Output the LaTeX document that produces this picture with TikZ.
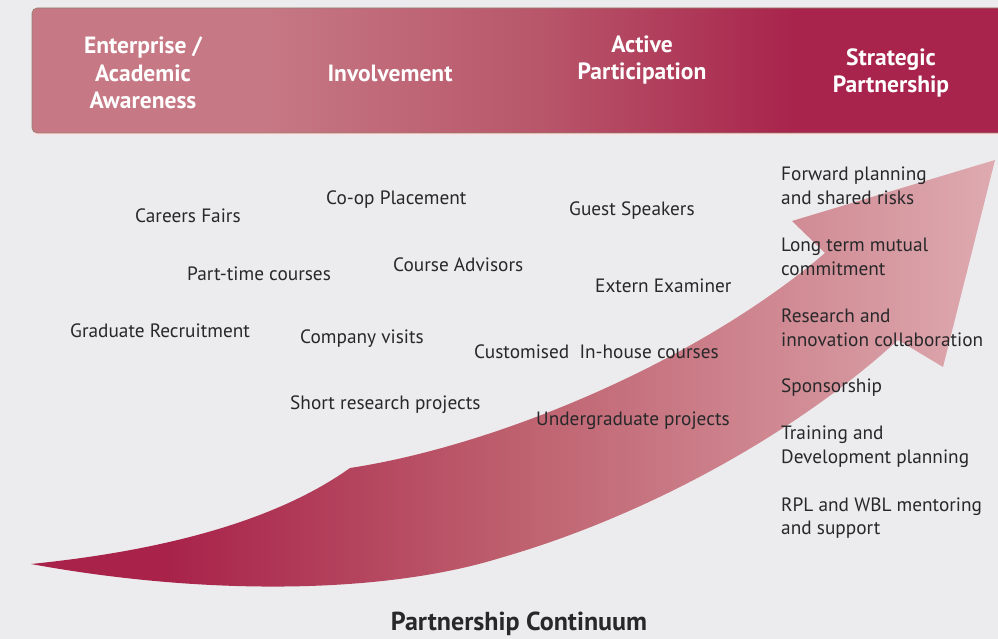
\documentclass[tikz,border=0pt]{standalone}
\usepackage{fontspec}
\setmainfont{PT Sans}
\usetikzlibrary{positioning}

\definecolor{bgcol}{RGB}{236,236,238}
\definecolor{txtcol}{RGB}{40,40,42}
\definecolor{banlight}{RGB}{198,120,132}
\definecolor{banmid}{RGB}{184,86,106}
\definecolor{bandark}{RGB}{168,36,76}
\definecolor{arrdark}{RGB}{168,34,74}
\definecolor{arrmid}{RGB}{190,96,110}
\definecolor{arrlight}{RGB}{222,170,176}

\pgfdeclarehorizontalshading{bannershade}{100bp}{color(0bp)=(banlight); color(37bp)=(banlight); color(51bp)=(banmid); color(64bp)=(bandark); color(100bp)=(bandark)}
\pgfdeclarehorizontalshading{arrowshade}{100bp}{color(0bp)=(arrdark); color(32bp)=(arrdark); color(50bp)=(arrmid); color(75bp)=(arrlight); color(100bp)=(arrlight)}

\tikzset{
    stage/.style={text=white, align=center, inner sep=0pt, font=\bfseries\fontsize{23.5}{27.5}\selectfont},
    item/.style={text=txtcol, anchor=west, align=left, inner sep=0pt, font=\fontsize{19.3}{23.7}\selectfont},
}

\begin{document}
\begin{tikzpicture}[x=1pt, y=-1pt]
    \useasboundingbox (0,0) rectangle (998,639);
    \fill[bgcol] (0,0) rectangle (998,639);

    % banner with the four stages
    \draw[pink!45, line width=1.2pt] (34,134) -- (1010,134);
    \shade[shading=bannershade, draw=gray!70!brown, line width=0.6pt, rounded corners=5pt]
        (32,8) rectangle (1010,133);
    \node[stage] (aware) at (143,73) {Enterprise /\\Academic\\Awareness};
    \node[stage] (involve) at (390,73) {Involvement};
    \node[stage] (active) at (642,60) {Active\\Participation};
    \node[stage] (strat) at (891,73) {Strategic\\Partnership};

    % the big curved arrow
    \shade[shading=arrowshade]
        (31,564) .. controls (150,552) and (270,525) .. (350,468)
        .. controls (500,445) and (700,360) .. (825,253)
        -- (792,221) -- (995,160) -- (943,367) -- (898,340)
        .. controls (800,430) and (650,515) .. (500,558)
        .. controls (380,595) and (200,595) .. (31,564) -- cycle;

    % activities along the continuum
    \node[item] (fairs) at (135,216) {Careers Fairs};
    \node[item] (coop) at (326,200) {Co-op Placement};
    \node[item] (guest) at (569,211) {Guest Speakers};
    \node[item] (parttime) at (187,274) {Part-time courses};
    \node[item] (advisors) at (393,265) {Course Advisors};
    \node[item] (extern) at (595,286) {Extern Examiner};
    \node[item] (grad) at (70,331) {Graduate Recruitment};
    \node[item] (visits) at (300,339) {Company visits};
    \node[item] (inhouse) at (474,352) {Customised\ \ In-house courses};
    \node[item] (short) at (290,405) {Short research projects};
    \node[item] (under) at (536,421) {Undergraduate projects};

    % strategic partnership column
    \node[item] (forward) at (781,186) {Forward planning\\and shared risks};
    \node[item] (longterm) at (781,257) {Long term mutual\\commitment};
    \node[item] (research) at (781,328) {Research and\\innovation collaboration};
    \node[item] (sponsor) at (781,388) {Sponsorship};
    \node[item] (training) at (781,447) {Training and\\Development planning};
    \node[item] (rpl) at (781,518) {RPL and WBL mentoring\\and support};

    \node[text=txtcol, font=\bfseries\fontsize{26}{30}\selectfont, inner sep=0pt] (title) at (519,624) {Partnership Continuum};
\end{tikzpicture}
\end{document}
